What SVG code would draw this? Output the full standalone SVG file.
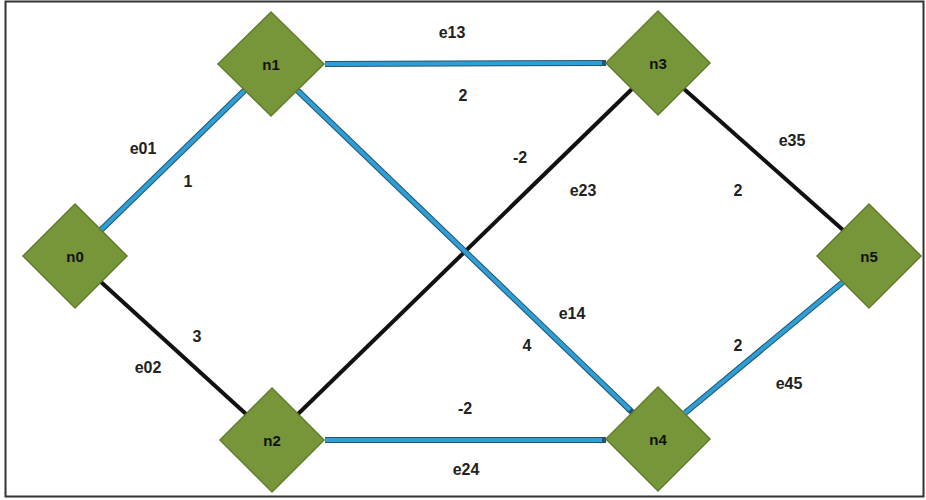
<svg xmlns="http://www.w3.org/2000/svg" width="926" height="500" viewBox="0 0 926 500">
<defs>
<style>
.node{fill:#779639;stroke:#627c2e;stroke-width:1.5}
.nl{font-family:"Liberation Sans",Arial,sans-serif;font-size:15px;font-weight:bold;fill:#111;text-anchor:middle;dominant-baseline:central}
.el{font-family:"Liberation Sans",Arial,sans-serif;font-size:16px;font-weight:bold;fill:#222;text-anchor:middle;dominant-baseline:central}
.blk{stroke:#111;stroke-width:4;fill:none}
.bo{stroke:#24546e;stroke-width:6;fill:none}
.bi{stroke:#2e9fd6;stroke-width:4;fill:none}
</style>
<marker id="arr" markerWidth="7" markerHeight="7" refX="6" refY="3.5" orient="auto" markerUnits="userSpaceOnUse">
<path d="M0,0 L7,3.5 L0,7 Z" fill="#24546e"/>
</marker>
</defs>
<rect x="0" y="0" width="926" height="500" fill="#fff"/>
<rect x="5.5" y="1.5" width="918" height="495" fill="#fff" stroke="#333" stroke-width="2"/>
<g id="connectors">
<line class="blk" x1="101" y1="282" x2="246" y2="414"/>
<line class="blk" x1="298" y1="414" x2="632" y2="89"/>
<line class="blk" x1="684" y1="89" x2="843" y2="230"/>
<g id="e01"><line class="bo" x1="101" y1="230" x2="245" y2="90"/><line class="bi" x1="101" y1="230" x2="245" y2="90"/></g>
<g id="e13"><line class="bo" x1="325" y1="64" x2="606" y2="63" marker-end="url(#arr)"/><line class="bi" x1="325" y1="64" x2="602" y2="63"/></g>
<g id="e14"><line class="bo" x1="297" y1="90" x2="633" y2="413" marker-end="url(#arr)"/><line class="bi" x1="297" y1="90" x2="630" y2="410"/></g>
<g id="e24"><line class="bo" x1="325" y1="440" x2="606" y2="440" marker-end="url(#arr)"/><line class="bi" x1="325" y1="440" x2="602" y2="440"/></g>
<g id="e45"><line class="bo" x1="685" y1="413" x2="843" y2="282"/><line class="bi" x1="685" y1="413" x2="843" y2="282"/></g>
</g>
<g id="labels">
<text class="el" x="452" y="32">e13</text>
<text class="el" x="463" y="95">2</text>
<text class="el" x="143" y="148">e01</text>
<text class="el" x="188" y="181">1</text>
<text class="el" x="520" y="157">-2</text>
<text class="el" x="583" y="190">e23</text>
<text class="el" x="792" y="140">e35</text>
<text class="el" x="738" y="190">2</text>
<text class="el" x="197" y="336">3</text>
<text class="el" x="148" y="367">e02</text>
<text class="el" x="572" y="313">e14</text>
<text class="el" x="527" y="345">4</text>
<text class="el" x="738" y="345">2</text>
<text class="el" x="789" y="383">e45</text>
<text class="el" x="465" y="408">-2</text>
<text class="el" x="466" y="469">e24</text>
</g>
<g id="n0"><path class="node" d="M75,204 L127,256 L75,308 L23,256 Z"/><text class="nl" x="75" y="256">n0</text></g>
<g id="n1"><path class="node" d="M271,12 L324,64 L271,116 L218,64 Z"/><text class="nl" x="271" y="64">n1</text></g>
<g id="n2"><path class="node" d="M272,388 L324,440 L272,492 L220,440 Z"/><text class="nl" x="272" y="440">n2</text></g>
<g id="n3"><path class="node" d="M658,11 L710,63 L658,115 L606,63 Z"/><text class="nl" x="658" y="63">n3</text></g>
<g id="n4"><path class="node" d="M658,387 L710,439 L658,491 L606,439 Z"/><text class="nl" x="658" y="439">n4</text></g>
<g id="n5"><path class="node" d="M869,204 L921,256 L869,308 L817,256 Z"/><text class="nl" x="869" y="256">n5</text></g>
</svg>
